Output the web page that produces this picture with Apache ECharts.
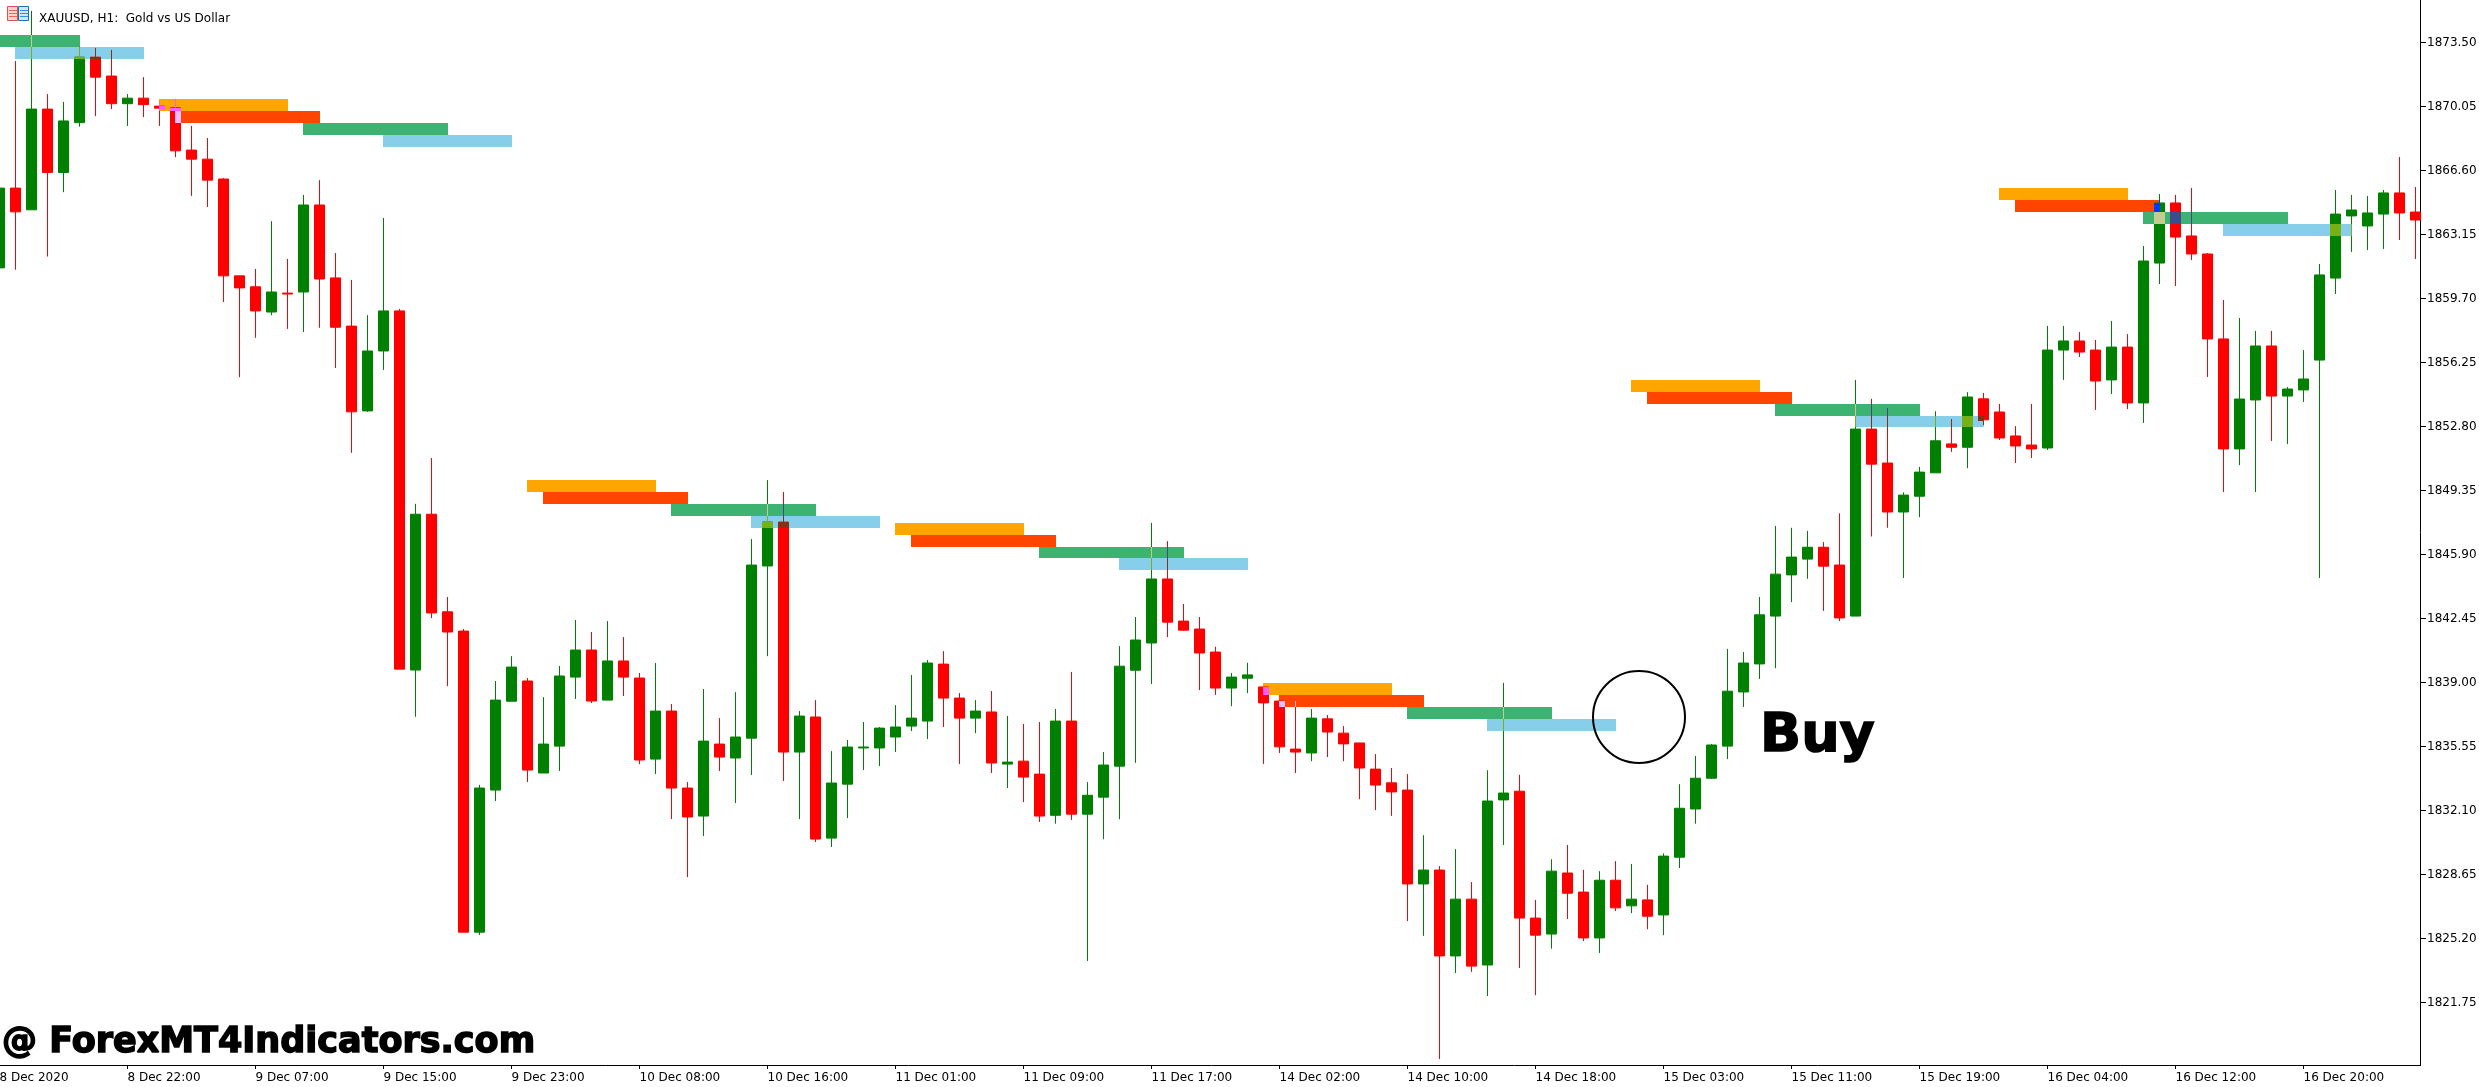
<!DOCTYPE html>
<html>
<head>
<meta charset="utf-8">
<title>XAUUSD, H1</title>
<script src="https://cdn.jsdelivr.net/npm/echarts@6/dist/echarts.min.js"></script>
<style>html,body{margin:0;padding:0;background:#fff}#c{width:2479px;height:1087px}</style>
</head>
<body>
<div id="c"></div>
<script>
const tickLabels = ['8 Dec 2020','8 Dec 22:00','9 Dec 07:00','9 Dec 15:00','9 Dec 23:00','10 Dec 08:00','10 Dec 16:00','11 Dec 01:00','11 Dec 09:00','11 Dec 17:00','14 Dec 02:00','14 Dec 10:00','14 Dec 18:00','15 Dec 03:00','15 Dec 11:00','15 Dec 19:00','16 Dec 04:00','16 Dec 12:00','16 Dec 20:00'];
const priceTicks = [1873.50,1870.05,1866.60,1863.15,1859.70,1856.25,1852.80,1849.35,1845.90,1842.45,1839.00,1835.55,1832.10,1828.65,1825.20,1821.75];

const opens = [
1861.36,1865.66,1864.49,1869.92,1866.50,1869.19,1872.72,1871.70,1870.21,1870.51,
1870.08,1869.99,1867.71,1867.22,1866.15,1860.93,1860.34,1858.98,1860.00,1860.06,
1864.75,1860.82,1858.22,1853.65,1856.88,1859.04,1839.68,1848.08,1842.82,1841.78,
1825.55,1833.21,1838.00,1839.09,1834.13,1835.58,1839.30,1840.76,1838.06,1840.17,
1839.25,1834.88,1837.47,1833.32,1831.81,1835.69,1834.94,1836.01,1845.29,1847.66,
1835.26,1837.15,1830.62,1833.53,1835.48,1835.48,1836.07,1836.66,1836.93,1840.00,
1838.17,1837.09,1837.42,1834.61,1834.77,1834.07,1831.85,1836.93,1831.91,1832.83,
1834.50,1839.67,1841.14,1844.59,1842.32,1841.89,1840.65,1838.71,1839.24,1838.77,
1838.01,1835.42,1835.21,1837.05,1836.28,1835.75,1834.34,1833.60,1833.21,1828.15,
1828.90,1824.27,1827.33,1823.78,1832.68,1833.15,1826.31,1825.45,1828.74,1827.71,
1825.24,1828.35,1826.97,1827.29,1826.48,1829.59,1832.19,1833.85,1835.58,1838.50,
1840.01,1842.59,1844.81,1845.66,1846.30,1845.34,1842.59,1852.67,1850.84,1848.20,
1849.05,1850.31,1851.87,1851.69,1854.30,1853.59,1852.30,1851.81,1851.65,1856.93,
1857.42,1856.93,1855.32,1857.09,1854.08,1861.62,1864.86,1863.08,1862.11,1857.53,
1851.60,1854.24,1857.15,1854.45,1854.78,1856.39,1860.81,1864.16,1863.62,1864.26,
1865.40,1864.37];
const closes = [
1865.66,1864.38,1869.92,1866.50,1869.28,1872.72,1871.64,1870.21,1870.51,1870.16,
1869.97,1867.67,1867.22,1866.09,1860.93,1860.28,1859.04,1860.06,1859.95,1864.75,
1860.76,1858.16,1853.60,1856.88,1859.04,1839.73,1848.08,1842.76,1841.73,1825.55,
1833.32,1838.06,1839.84,1834.29,1835.69,1839.36,1840.76,1838.01,1840.17,1839.30,
1834.83,1837.47,1833.32,1831.76,1835.85,1834.99,1836.07,1845.34,1847.66,1835.26,
1837.20,1830.57,1833.59,1835.53,1835.53,1836.55,1836.61,1837.09,1840.06,1838.17,
1837.09,1837.47,1834.67,1834.72,1833.91,1831.81,1836.93,1831.91,1832.93,1834.56,
1839.89,1841.30,1844.59,1842.26,1841.83,1840.60,1838.71,1839.30,1839.42,1837.91,
1835.54,1835.26,1837.09,1836.34,1835.70,1834.40,1833.48,1833.11,1828.15,1828.90,
1824.27,1827.33,1823.72,1832.62,1833.05,1826.31,1825.39,1828.84,1827.65,1825.24,
1828.35,1826.86,1827.33,1826.41,1829.65,1832.23,1833.85,1835.64,1838.54,1840.06,
1842.66,1844.85,1845.77,1846.30,1845.28,1842.49,1852.67,1850.78,1848.20,1849.11,
1850.35,1852.04,1851.69,1854.40,1853.17,1852.19,1851.76,1851.60,1856.93,1857.42,
1856.82,1855.26,1857.09,1854.08,1861.73,1864.86,1863.02,1862.11,1857.53,1851.60,
1854.29,1857.15,1854.45,1854.83,1855.37,1860.98,1864.26,1864.48,1864.32,1865.40,
1864.32,1863.94];
const lows = [
1861.36,1861.26,1864.49,1861.97,1865.44,1868.97,1869.54,1869.92,1869.01,1869.49,
1869.01,1867.33,1865.24,1864.64,1859.52,1855.47,1857.59,1858.81,1858.07,1857.90,
1858.13,1855.96,1851.39,1853.60,1855.86,1839.73,1837.16,1842.48,1838.81,1825.55,
1825.40,1832.62,1838.00,1833.64,1834.13,1834.24,1838.12,1837.90,1838.06,1838.28,
1834.61,1834.07,1831.65,1828.52,1830.73,1834.24,1832.51,1834.02,1840.43,1833.70,
1831.65,1830.41,1830.14,1831.70,1834.29,1834.50,1835.26,1836.39,1835.96,1836.61,
1834.61,1836.28,1834.13,1833.32,1832.56,1831.49,1831.40,1831.60,1824.00,1830.56,
1831.64,1834.68,1838.93,1841.46,1841.79,1838.60,1838.34,1837.73,1838.44,1834.62,
1835.21,1834.13,1834.77,1834.99,1834.77,1832.72,1832.13,1831.82,1826.15,1825.35,
1818.71,1823.35,1823.41,1822.11,1830.25,1823.62,1822.15,1824.66,1826.26,1825.07,
1824.43,1826.69,1826.58,1825.71,1825.39,1829.01,1831.40,1833.81,1834.88,1837.69,
1839.20,1839.78,1843.34,1844.60,1842.87,1842.32,1842.59,1846.88,1847.35,1844.64,
1847.92,1850.31,1851.44,1850.56,1852.89,1852.08,1850.84,1851.11,1851.54,1855.32,
1856.56,1853.70,1854.56,1853.75,1853.00,1860.49,1860.38,1861.78,1855.48,1849.28,
1850.73,1849.28,1852.03,1851.86,1854.13,1844.64,1859.95,1862.22,1862.32,1862.38,
1862.86,1861.84];
const highs = [
1865.66,1872.51,1875.21,1870.73,1870.31,1873.28,1873.22,1873.11,1870.73,1871.64,
1870.31,1870.47,1869.01,1868.36,1866.20,1860.93,1861.30,1863.88,1861.84,1865.29,
1866.09,1862.16,1860.71,1858.81,1864.05,1859.15,1848.64,1851.11,1843.62,1841.89,
1833.49,1839.09,1840.43,1839.25,1838.22,1839.90,1842.38,1841.73,1842.32,1841.46,
1839.52,1840.06,1837.85,1833.64,1838.66,1837.09,1838.49,1846.74,1849.92,1849.28,
1837.47,1838.06,1835.31,1835.91,1836.88,1836.61,1837.79,1839.41,1840.22,1840.70,
1838.44,1838.06,1838.55,1837.20,1836.77,1836.88,1837.58,1839.58,1833.64,1835.26,
1840.97,1842.54,1847.61,1846.63,1843.24,1842.54,1840.93,1839.52,1840.07,1838.77,
1838.01,1838.01,1837.58,1837.26,1836.66,1835.75,1835.15,1834.40,1834.07,1830.78,
1829.11,1830.03,1828.25,1834.28,1838.99,1834.03,1827.29,1829.48,1830.25,1828.91,
1828.84,1829.38,1829.23,1828.10,1829.80,1833.53,1835.05,1835.69,1840.82,1840.65,
1843.62,1847.45,1847.35,1847.18,1846.58,1848.13,1855.32,1854.30,1853.80,1849.26,
1850.63,1853.63,1853.21,1854.66,1854.62,1854.02,1852.83,1854.02,1858.23,1858.23,
1857.90,1857.47,1858.50,1857.79,1862.54,1865.34,1865.29,1865.67,1862.16,1859.63,
1858.66,1857.96,1857.96,1854.94,1856.93,1861.57,1865.56,1865.29,1865.23,1865.56,
1867.34,1865.72];

const zoneKinds  = ['seagreen','skyblue','orange','orangered','seagreen','skyblue','orange','orangered','seagreen','skyblue','orange','orangered','seagreen','skyblue','orange','orangered','seagreen','skyblue','orange','orangered','seagreen','skyblue','orange','orangered','seagreen','skyblue'];
const zoneStart  = [0,1,10,11,19,24,33,34,42,47,56,57,65,70,79,80,88,93,102,103,111,116,125,126,134,139];
const zoneEnd    = [5,9,18,20,28,32,41,43,51,55,64,66,74,78,87,89,97,101,110,112,120,124,133,135,143,147];
const zoneTop    = [1873.91,1873.28,1870.47,1869.82,1869.17,1868.52,1849.92,1849.28,1848.63,1847.98,1847.60,1846.96,1846.31,1845.71,1838.99,1838.34,1837.70,1837.05,1855.31,1854.66,1854.02,1853.39,1865.67,1865.02,1864.37,1863.72];
const zoneBottom = [1873.28,1872.62,1869.82,1869.17,1868.52,1867.87,1849.28,1848.63,1847.98,1847.34,1846.96,1846.31,1845.71,1845.06,1838.34,1837.70,1837.05,1836.40,1854.66,1854.02,1853.39,1852.78,1865.02,1864.37,1863.72,1863.08];

const UP = [0,128,0], DOWN = [255,0,0];
const RGB = {seagreen:[60,179,113], skyblue:[135,206,235], orange:[255,165,0], orangered:[255,69,0]};
const css = c => 'rgb(' + c.join(',') + ')';
// The terminal paints its rectangles in XOR mode: candle ^ zone ^ white
const xorColor = (cand, zone) => css(cand.map((v, k) => 255 - (v ^ zone[k])));

const categories = opens.map((_, i) => i % 8 === 0 ? tickLabels[i / 8] : String(i));
const candleData = opens.map((o, i) => [o, closes[i], lows[i], highs[i]]);

// candle/zone pairs that overlap, for the XOR pieces
const overlaps = [];
zoneKinds.forEach((k, z) => {
  for (let i = zoneStart[z]; i <= zoneEnd[z] && i < opens.length; i++) {
    if (highs[i] > zoneBottom[z] && lows[i] < zoneTop[z]) overlaps.push([i, z]);
  }
});

function pxRect(x0, x1, y0, y1, fill) {
  return {type: 'rect', shape: {x: x0, y: y0, width: x1 - x0, height: y1 - y0}, style: {fill: fill}, silent: true};
}

function renderZone(params, api) {
  const z = params.dataIndex;
  const a = api.coord([zoneStart[z], zoneTop[z]]);
  const b = api.coord([zoneEnd[z], zoneBottom[z]]);
  return pxRect(Math.floor(a[0]), Math.floor(b[0]) + 1, Math.round(a[1]), Math.round(b[1]), css(RGB[zoneKinds[z]]));
}

function renderOverlap(params, api) {
  const [i, z] = overlaps[params.dataIndex];
  const cand = closes[i] > opens[i] ? UP : DOWN;
  const fill = xorColor(cand, RGB[zoneKinds[z]]);
  const zx0 = Math.floor(api.coord([zoneStart[z], 0])[0]);
  const zx1 = Math.floor(api.coord([zoneEnd[z], 0])[0]) + 1;
  const zy0 = Math.round(api.coord([0, zoneTop[z]])[1]);
  const zy1 = Math.round(api.coord([0, zoneBottom[z]])[1]);
  const cx = Math.floor(api.coord([i, 0])[0]);
  const by0 = Math.round(api.coord([0, Math.max(opens[i], closes[i])])[1]);
  const by1 = Math.round(api.coord([0, Math.min(opens[i], closes[i])])[1]);
  const hy = Math.round(api.coord([0, highs[i]])[1]);
  const ly = Math.round(api.coord([0, lows[i]])[1]);
  const children = [];
  // wick
  const wy0 = Math.max(hy, zy0), wy1 = Math.min(ly, zy1);
  if (wy1 > wy0 && cx >= zx0 && cx < zx1) children.push(pxRect(cx, cx + 1, wy0, wy1, fill));
  // body
  const bx0 = Math.max(cx - 5, zx0), bx1 = Math.min(cx + 6, zx1);
  const by = Math.max(by0, zy0), bz = Math.min(by1 + 1, zy1);
  if (bx1 > bx0 && bz > by) children.push(pxRect(bx0, bx1, by, bz, fill));
  return {type: 'group', children: children};
}

const chart = echarts.init(document.getElementById('c'), null, {renderer: 'canvas'});
const FONT = '"DejaVu Sans"';
chart.setOption({
  animation: false,
  backgroundColor: '#ffffff',
  title: {
    text: 'XAUUSD, H1:  Gold vs US Dollar',
    left: 34, top: 8,
    textStyle: {fontFamily: FONT, fontWeight: 'normal', fontSize: 12, color: '#000'}
  },
  grid: {left: -8.5, top: 0, width: 2432, height: 1065, containLabel: false, outerBoundsMode: 'none'},
  xAxis: {
    type: 'category',
    data: categories,
    boundaryGap: true,
    axisLine: {show: true, onZero: false, lineStyle: {color: '#000', width: 1}},
    axisTick: {show: true, interval: 7, alignWithLabel: true, length: 4, lineStyle: {color: '#000'}},
    axisLabel: {show: true, interval: 7, align: 'left', margin: 7, hideOverlap: false, showMinLabel: true,
      fontFamily: FONT, fontSize: 12, color: '#000'},
    splitLine: {show: false}
  },
  yAxis: {
    type: 'value',
    position: 'right',
    offset: -3.5,
    min: 1818.39,
    max: 1875.80,
    scale: true,
    axisLine: {show: true, onZero: false, lineStyle: {color: '#000', width: 1}},
    axisTick: {show: true, length: 6, lineStyle: {color: '#000'}, customValues: priceTicks},
    axisLabel: {show: true, margin: 7, fontFamily: FONT, fontSize: 12, color: '#000',
      customValues: priceTicks, formatter: v => v.toFixed(2)},
    splitLine: {show: false}
  },
  series: [
    {
      type: 'custom', name: 'Zones', z: 1, silent: true, clip: true,
      data: zoneKinds.map((k, z) => [zoneStart[z], zoneTop[z]]),
      encode: {x: 0, y: 1},
      renderItem: renderZone
    },
    {
      type: 'candlestick', name: 'XAUUSD', z: 2, silent: true, clip: true,
      barWidth: 10,
      data: candleData,
      itemStyle: {color: css(UP), color0: css(DOWN), borderColor: css(UP), borderColor0: css(DOWN), borderWidth: 1}
    },
    {
      type: 'custom', name: 'Overlaps', z: 3, silent: true, clip: true,
      data: overlaps.map(p => [p[0], zoneTop[p[1]]]),
      encode: {x: 0, y: 1},
      renderItem: renderOverlap
    }
  ],
  graphic: {elements: [
    {type: 'rect', z: 50, silent: true, shape: {x: 2421, y: 1063, width: 6, height: 4}, style: {fill: '#fff'}},
    {type: 'circle', z: 50, silent: true, shape: {cx: 1639, cy: 717, r: 46}, style: {fill: 'none', stroke: '#000', lineWidth: 2}},
    {type: 'text', z: 50, silent: true, x: 1760, y: 737, style: {text: 'Buy', fontFamily: FONT, fontWeight: 'bold', fontSize: 54, fill: '#000', stroke: '#000', lineWidth: 1.5, textAlign: 'left', textVerticalAlign: 'middle'}},
    {type: 'text', z: 50, silent: true, x: 2, y: 1043, style: {text: '@ ForexMT4Indicators.com', fontFamily: FONT, fontWeight: 'bold', fontSize: 35, fill: '#000', stroke: '#000', lineWidth: 1.5, textAlign: 'left', textVerticalAlign: 'middle'}},
    // window icon
    {type: 'rect', z: 50, silent: true, shape: {x: 7.5, y: 6.5, width: 10, height: 14}, style: {fill: '#f9d5cc', stroke: '#d9534a', lineWidth: 1}},
    {type: 'rect', z: 50, silent: true, shape: {x: 18.5, y: 6.5, width: 10, height: 14}, style: {fill: '#cfe7f8', stroke: '#1f6fb0', lineWidth: 1}},
    {type: 'line', z: 51, silent: true, shape: {x1: 9, y1: 10.5, x2: 17, y2: 10.5}, style: {stroke: '#e56a5e', lineWidth: 1}},
    {type: 'line', z: 51, silent: true, shape: {x1: 9, y1: 13.5, x2: 17, y2: 13.5}, style: {stroke: '#e56a5e', lineWidth: 1}},
    {type: 'line', z: 51, silent: true, shape: {x1: 9, y1: 16.5, x2: 17, y2: 16.5}, style: {stroke: '#e56a5e', lineWidth: 1}},
    {type: 'line', z: 51, silent: true, shape: {x1: 20, y1: 10.5, x2: 28, y2: 10.5}, style: {stroke: '#3b8fd0', lineWidth: 1}},
    {type: 'line', z: 51, silent: true, shape: {x1: 20, y1: 13.5, x2: 28, y2: 13.5}, style: {stroke: '#3b8fd0', lineWidth: 1}},
    {type: 'line', z: 51, silent: true, shape: {x1: 20, y1: 16.5, x2: 28, y2: 16.5}, style: {stroke: '#3b8fd0', lineWidth: 1}}
  ]}
});
</script>
</body>
</html>
